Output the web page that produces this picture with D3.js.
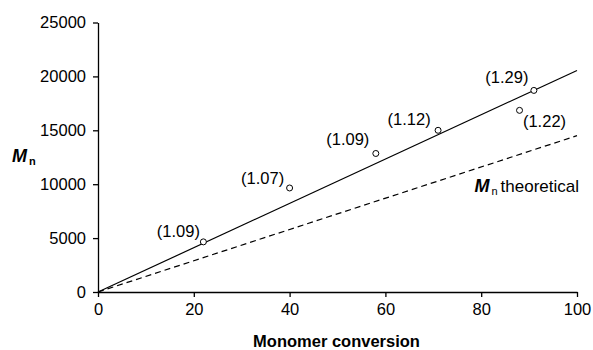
<!DOCTYPE html>
<html>
<head>
<meta charset="utf-8">
<script src="https://cdn.jsdelivr.net/npm/d3@7"></script>
<style>
  body { margin: 0; background: #fff; }
  svg { font-family: 'Liberation Sans', Arial, sans-serif; }
</style>
</head>
<body>
<script>
// measured points (conversion %, Mn) and PDI labels
const conversion = [22, 40, 58, 71, 88, 91];
const mnValues = [4650, 9650, 12850, 15000, 16850, 18700];
const pdiLabels = ['(1.09)', '(1.07)', '(1.09)', '(1.12)', '(1.22)', '(1.29)'];
// label offsets relative to each point
const labelDx = [-25, -27, -28, -29, 25, -27];
const labelDy = [-11, -10, -14, -11, 11, -13];
// fitted trend and theoretical lines
const fitLine = [[0, 0], [100, 20550]];
const theoryLine = [[0, 0], [100, 14500]];
const xTicks = [0, 20, 40, 60, 80, 100];
const yTicks = [0, 5000, 10000, 15000, 20000, 25000];

const margin = {top: 22.5, right: 16, bottom: 58, left: 98},
  width = 593 - margin.left - margin.right,
  height = 350 - margin.top - margin.bottom;

const svg = d3.select('body').append('svg')
  .attr('width', 593)
  .attr('height', 350);

const g = svg.append('g')
  .attr('transform', 'translate(' + margin.left + ',' + margin.top + ')');

const x = d3.scaleLinear().domain([0, 100]).range([0, width]);
const y = d3.scaleLinear().domain([0, 25000]).range([height, 0]);

const xAxis = d3.axisBottom(x).tickValues(xTicks).tickFormat(d3.format('d'))
  .tickSize(5).tickSizeOuter(0).tickPadding(6);
const yAxis = d3.axisLeft(y).tickValues(yTicks).tickFormat(d3.format('d'))
  .tickSize(5).tickSizeOuter(0).tickPadding(7);

const gx = g.append('g').attr('transform', 'translate(0,' + height + ')').call(xAxis);
const gy = g.append('g').call(yAxis);

[gx, gy].forEach(function(a) {
  a.selectAll('path, line').attr('stroke', '#000').attr('stroke-width', 1.3);
  a.selectAll('text').attr('fill', '#000').style('font-size', '16.5px');
});

const line = d3.line().x(function(d) { return x(d[0]); }).y(function(d) { return y(d[1]); });

g.append('path').datum(theoryLine)
  .attr('d', line)
  .attr('fill', 'none')
  .attr('stroke', '#000')
  .attr('stroke-width', 1.2)
  .attr('stroke-dasharray', '6,4');

g.append('path').datum(fitLine)
  .attr('d', line)
  .attr('fill', 'none')
  .attr('stroke', '#000')
  .attr('stroke-width', 1.2);

g.selectAll('circle.pt').data(conversion)
  .enter().append('circle')
  .attr('class', 'pt')
  .attr('cx', function(d) { return x(d); })
  .attr('cy', function(d, i) { return y(mnValues[i]); })
  .attr('r', 3)
  .attr('fill', '#fff')
  .attr('stroke', '#000')
  .attr('stroke-width', 1);

g.selectAll('text.pdi').data(pdiLabels)
  .enter().append('text')
  .attr('class', 'pdi')
  .attr('x', function(d, i) { return x(conversion[i]) + labelDx[i]; })
  .attr('y', function(d, i) { return y(mnValues[i]) + labelDy[i]; })
  .attr('text-anchor', 'middle')
  .attr('dy', '0.35em')
  .style('font-size', '16.5px')
  .text(function(d) { return d; });

// theoretical line label
const th = g.append('text')
  .attr('x', x(100) + 2)
  .attr('y', y(theoryLine[1][1]) + 56)
  .attr('text-anchor', 'end')
  .style('font-size', '17px');
th.append('tspan').style('font-style', 'italic').style('font-weight', 'bold').style('font-size', '18px').text('M');
th.append('tspan').attr('dx', 2).attr('dy', 3).style('font-size', '11px').text('n');
th.append('tspan').attr('dx', 3).attr('dy', -3).text('theoretical');

// axis titles
svg.append('text')
  .attr('x', margin.left + width / 2 - 1)
  .attr('y', 347)
  .attr('text-anchor', 'middle')
  .style('font-size', '16.5px')
  .style('font-weight', 'bold')
  .text('Monomer conversion');

const yl = svg.append('text')
  .attr('x', 12)
  .attr('y', 162);
yl.append('tspan').style('font-style', 'italic').style('font-weight', 'bold').style('font-size', '18px').text('M');
yl.append('tspan').attr('dx', 2).attr('dy', 3).style('font-weight', 'bold').style('font-size', '11px').text('n');
</script>
</body>
</html>
